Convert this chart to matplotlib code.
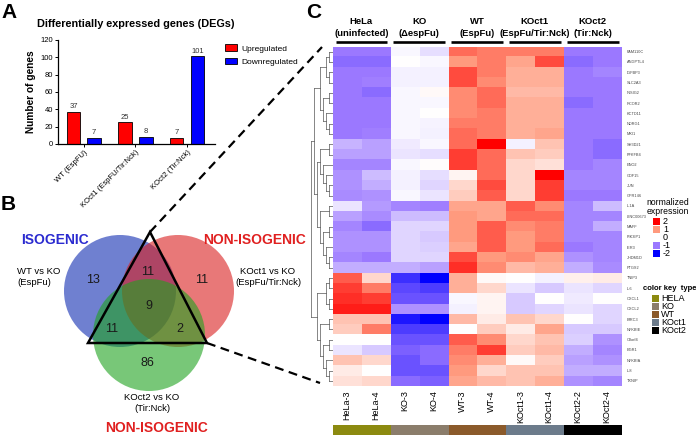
import numpy as np
import matplotlib
matplotlib.use('Agg')
from matplotlib import pyplot as plt
from matplotlib.colors import LinearSegmentedColormap, ListedColormap
from matplotlib.patches import Circle, Rectangle, Polygon

plt.rcParams['font.family'] = ['Liberation Sans', 'DejaVu Sans']

W, H = 696, 438

# ---- panel A data
deg_groups = ['WT (EspFU)', 'KOct1 (EspFU/Tir:Nck)', 'KOct2 (Tir:Nck)']
up_genes = [37, 25, 7]
down_genes = [7, 8, 101]

# ---- panel B data (Venn region counts)
venn_regions = ['WT', 'WT&KOct1', 'KOct1', 'all', 'WT&KOct2', 'KOct1&KOct2', 'KOct2']
venn_counts = [13, 11, 11, 9, 11, 2, 86]

# ---- panel C data
genes = ['FAM110C', 'ANGPTL4', 'IGFBP3', 'SLC2A3', 'INSIG2', 'RCOR2', 'KCTD11',
         'NDRG1', 'MXI1', 'SH3D21', 'PFKFB4', 'ENO2', 'GDF15', 'JUN', 'GPR146',
         'IL1A', 'LINC00673', 'MAFF', 'PIK3IP1', 'IER3', 'JHDM1D', 'PTGS2',
         'TNIP3', 'IL6', 'CXCL1', 'CXCL2', 'BIRC3', 'NFKBIE', 'C8orf4', 'EGR1',
         'NFKBIA', 'IL8', 'TXNIP']
samples = ['HeLa-3', 'HeLa-4', 'KO-3', 'KO-4', 'WT-3', 'WT-4',
           'KOct1-3', 'KOct1-4', 'KOct2-2', 'KOct2-4']
sample_type = [0, 0, 1, 1, 2, 2, 3, 3, 4, 4]
type_names = ['HELA', 'KO', 'WT', 'KOct1', 'KOct2']
group_top = ['HeLa', 'KO', 'WT', 'KOct1', 'KOct2']
group_bottom = ['(uninfected)', '(\u0394espFu)', '(EspFu)', '(EspFu/Tir:Nck)', '(Tir:Nck)']
expr = np.array([
    [-1.0, -1.0, -0.05, -0.25, 1.3, 1.2, 1.2, 1.2, -1.0, -1.0],
    [-1.1, -1.1, 0.00, -0.05, 1.0, 1.2, 0.9, 1.5, -1.1, -1.0],
    [-1.0, -1.0, -0.10, -0.10, 1.5, 1.2, 0.8, 0.8, -1.0, -0.9],
    [-1.0, -0.95, -0.10, -0.10, 1.5, 1.1, 0.8, 0.8, -1.0, -1.0],
    [-1.0, -1.1, -0.05, 0.05, 1.1, 1.3, 0.7, 0.7, -1.0, -1.0],
    [-1.0, -1.0, -0.05, -0.05, 1.1, 1.3, 0.8, 0.8, -1.1, -1.0],
    [-1.0, -1.0, -0.05, 0.00, 1.1, 1.2, 0.8, 0.8, -1.0, -1.0],
    [-1.0, -1.0, -0.05, -0.08, 1.2, 1.2, 0.8, 0.8, -1.0, -1.0],
    [-1.0, -0.95, -0.05, -0.10, 1.3, 1.2, 0.8, 0.9, -1.0, -1.0],
    [-0.55, -0.7, -0.15, -0.05, 1.3, 2.0, -0.1, 0.6, -1.0, -1.1],
    [-0.7, -0.7, -0.20, -0.25, 1.6, 1.3, 0.6, 0.5, -1.0, -1.1],
    [-0.9, -0.9, -0.05, 0.02, 1.6, 1.3, 0.4, 0.3, -1.0, -0.9],
    [-0.8, -0.5, -0.10, -0.25, 0.1, 1.3, 0.4, 2.0, -0.9, -0.9],
    [-0.8, -0.6, -0.10, -0.30, 0.4, 1.5, 0.4, 1.6, -0.9, -0.9],
    [-0.85, -0.8, -0.05, -0.2, 0.5, 1.4, 0.4, 1.6, -1.0, -1.0],
    [-0.2, -0.75, -0.9, -0.95, 0.9, 0.9, 1.4, 1.1, -0.9, -0.5],
    [-0.7, -0.85, -0.5, -0.5, 1.0, 0.9, 1.3, 1.3, -0.9, -0.9],
    [-0.9, -1.1, -0.3, -0.3, 1.0, 1.4, 1.1, 1.2, -0.9, -0.6],
    [-0.8, -0.8, -0.3, -0.4, 1.0, 1.4, 1.0, 1.2, -0.9, -0.9],
    [-0.8, -0.8, -0.3, -0.35, 0.9, 1.4, 1.0, 1.3, -1.0, -0.9],
    [-0.9, -1.0, -0.3, -0.3, 1.5, 1.0, 1.1, 0.9, -0.8, -0.9],
    [-0.6, -0.6, -0.6, -0.7, 1.7, 1.1, 0.7, 0.8, -0.6, -0.85],
    [1.4, 0.4, -1.6, -2.0, 0.8, 0.05, 0.0, -0.1, 0.15, 0.2],
    [1.6, 1.2, -1.4, -1.5, 0.8, 0.4, -0.2, -0.4, -0.2, -0.3],
    [1.7, 1.6, -1.3, -1.3, -0.05, 0.1, -0.4, 0.0, -0.15, 0.0],
    [1.8, 1.8, -0.8, -0.8, -0.1, 0.1, -0.4, -0.3, -0.2, -0.3],
    [0.6, 0.6, -1.8, -2.0, 0.7, 0.2, 0.6, 0.4, 0.0, -0.3],
    [0.5, 1.2, -1.5, -1.5, 0.0, 0.5, 0.2, 0.9, -0.4, -0.4],
    [0.0, 0.0, -1.3, -1.3, 1.4, 1.1, 0.4, 0.6, -0.35, -0.8],
    [-0.2, -0.4, -1.2, -1.1, 1.2, 1.6, 0.5, 0.7, -0.6, -0.9],
    [0.6, 0.4, -1.3, -1.1, 1.1, 0.8, 0.05, 0.5, -0.7, -0.8],
    [0.2, 0.0, -1.3, -1.3, 1.0, 0.4, 0.6, 0.6, -0.6, -0.6],
    [0.3, 0.4, -1.1, -1.2, 0.9, 0.7, 0.6, 0.8, -0.8, -0.9],
])
# row clustering (nested row indices)
top_tree = [[[[0, 1], [2, 3]], [[4, 5], [6, [7, 8]]]],
            [[[9, 10], [11, [12, [13, 14]]]], [[15, 16], [[17, 18], [19, [20, 21]]]]]]
bottom_tree = [[[22, 23], [24, 25]], [[26, 27], [[28, 29], [30, [31, 32]]]]]
row_tree = [top_tree, bottom_tree]

legend_levels = [2, 1, 0, -1, -2]

heat_colors = ['#0000ff', '#9b78ff', '#ffffff', '#ff9c80', '#ff0000']
type_colors = ['#8c8a10', '#8b7d6b', '#8b5a2b', '#6c7b8b', '#000000']
cmap = LinearSegmentedColormap.from_list('expr', heat_colors)


def px_axes(x0, y0, x1, y1):
    return fig.add_axes([x0 / W, 1 - y1 / H, (x1 - x0) / W, (y1 - y0) / H])


fig = plt.figure(figsize=(W / 100, H / 100), dpi=100)

# overlay axes in pixel coordinates
ov = fig.add_axes([0, 0, 1, 1])
ov.set_xlim(0, W)
ov.set_ylim(H, 0)
ov.axis('off')

# panel letters
for letter, (lx, ly) in zip('ABC', [(1, 12), (1, 205), (306, 12)]):
    ov.text(lx, ly, letter, fontsize=15, fontweight='bold', va='center', ha='left')

# ---------------- Panel A
axA = px_axes(58, 40, 215, 144)
xg = np.arange(len(deg_groups))
axA.bar(xg - 0.2, up_genes, 0.26, color='#ff0000', edgecolor='black', lw=0.6, label='Upregulated')
axA.bar(xg + 0.2, down_genes, 0.26, color='#0000ff', edgecolor='black', lw=0.6, label='Downregulated')
for xi, u, d in zip(xg, up_genes, down_genes):
    axA.text(xi - 0.2, u + 2, str(u), ha='center', va='bottom', fontsize=5.5, color='#333333')
    axA.text(xi + 0.2, d + 2, str(d), ha='center', va='bottom', fontsize=5.5, color='#333333')
axA.set_xlim(-0.5, 2.54)
axA.set_ylim(0, 120)
axA.set_yticks(np.arange(0, 121, 20))
axA.set_xticks(xg)
axA.set_xticklabels(deg_groups, rotation=45, ha='right', rotation_mode='anchor', fontsize=5.5)
axA.tick_params(axis='y', labelsize=5.5, length=2, width=0.7, pad=1.5)
axA.tick_params(axis='x', length=2, width=0.7, pad=1.5)
for s in ['top', 'right']:
    axA.spines[s].set_visible(False)
for s in ['left', 'bottom']:
    axA.spines[s].set_linewidth(0.9)
axA.set_ylabel('Number of genes', fontsize=7.3, fontweight='bold', labelpad=3)
ov.text(136, 24, 'Differentially expressed genes (DEGs)', fontsize=7.8, fontweight='bold',
        ha='center', va='center')
axA.legend(loc='upper left', bbox_to_anchor=(1.04, 1.0), frameon=False, fontsize=6,
           handlelength=1.4, handleheight=0.9, borderpad=0, labelspacing=0.6, handletextpad=0.5)

# ---------------- Panel B (Venn)
circles = [((120, 291), '#102bb1'), ((178, 291), '#d91e1e'), ((149, 335), '#1ea31e')]
for (cx, cy), col in circles:
    ov.add_patch(Circle((cx, cy), 56, fc=col, alpha=0.6, ec='none'))
count_pos = [(93, 280), (148, 272), (202, 280), (149, 306), (112, 329), (180, 329), (147, 363)]
for (tx, ty), n in zip(count_pos, venn_counts):
    ov.text(tx, ty, str(n), fontsize=9, ha='center', va='center', color='#1a1a1a')
ov.add_patch(Polygon([(150, 232), (88, 343), (207, 343)], closed=True, fill=False,
                     ec='black', lw=1.8))
ov.text(55, 240, 'ISOGENIC', fontsize=10, fontweight='bold', color='#2b2bd0', ha='center', va='center')
ov.text(203, 240, 'NON-ISOGENIC', fontsize=10, fontweight='bold', color='#e02020', ha='left', va='center')
ov.text(156, 428, 'NON-ISOGENIC', fontsize=10, fontweight='bold', color='#e02020', ha='center', va='center')
ov.text(17, 277, 'WT vs KO\n(EspFu)', fontsize=6.8, ha='left', va='center', linespacing=1.25)
ov.text(268, 277, 'KOct1 vs KO\n(EspFu/Tir:Nck)', fontsize=6.8, ha='center', va='center', linespacing=1.25)
ov.text(152, 403, 'KOct2 vs KO\n(Tir:Nck)', fontsize=6.8, ha='center', va='center', linespacing=1.25)

# dashed connectors
ov.plot([150, 322], [232, 47], color='black', lw=1.6, ls=(0, (4, 2.5)))
ov.plot([207, 320], [343, 383], color='black', lw=1.6, ls=(0, (4, 2.5)))

# ---------------- Panel C (heatmap)
hx0, hx1, hy0, hy1 = 332.5, 621.5, 46.5, 386
col_w = (hx1 - hx0) / len(samples)
axH = px_axes(hx0, hy0, hx1, hy1)
axH.imshow(expr, cmap=cmap, vmin=-2, vmax=2, aspect='auto', interpolation='nearest')
axH.set_yticks(np.arange(len(genes)))
axH.set_yticklabels(genes, fontsize=2.8, color='#444444')
axH.yaxis.tick_right()
axH.set_xticks(np.arange(len(samples)))
axH.set_xticklabels(samples, rotation=90, fontsize=6.5, va='top')
axH.tick_params(length=0, pad=3)
axH.tick_params(axis='y', pad=4)
for s in axH.spines.values():
    s.set_visible(False)

# sample type strip
axS = px_axes(hx0, 425, hx1, 435)
axS.imshow(np.array([sample_type]), cmap=ListedColormap(type_colors), vmin=-0.5, vmax=4.5,
           aspect='auto', interpolation='nearest')
axS.axis('off')

# group headers
for g, (t1, t2) in enumerate(zip(group_top, group_bottom)):
    gx0 = hx0 + 2 * g * col_w
    gx1 = gx0 + 2 * col_w
    cx = (gx0 + gx1) / 2
    ov.text(cx, 21, t1, fontsize=6.8, fontweight='bold', ha='center', va='center')
    ov.text(cx, 33, t2, fontsize=6.8, fontweight='bold', ha='center', va='center')
    ov.plot([gx0 + 3, gx1 - 3], [41.5, 41.5], color='black', lw=1.9, solid_capstyle='butt')

# dendrogram
axD = px_axes(311, hy0, hx0, hy1)


def draw_tree(node):
    if isinstance(node, int):
        return node, 0
    kids = [draw_tree(k) for k in node]
    h = 1 + max(k[1] for k in kids)
    ys = [k[0] for k in kids]
    for y, kh in kids:
        axD.plot([kh, h], [y, y], color='#555555', lw=0.5)
    axD.plot([h, h], [min(ys), max(ys)], color='#555555', lw=0.5)
    return float(np.mean(ys)), h


_, root_h = draw_tree(row_tree)
axD.set_xlim(root_h + 0.1, 0)
axD.set_ylim(len(genes) - 0.5, -0.5)
axD.axis('off')

# expression legend
ov.text(668, 207, 'normalized\nexpression', fontsize=6.2, ha='center', va='center', linespacing=1.1)
for i, lev in enumerate(legend_levels):
    yy = 221 + i * 8
    if lev != 0:
        ov.add_patch(Rectangle((653, yy - 3.5), 7, 7, fc=cmap((lev + 2) / 4), ec='none'))
    ov.text(663, yy, str(lev), fontsize=6.5, ha='left', va='center')

# color key
ov.text(643, 289, 'color key  type', fontsize=5.5, fontweight='bold', ha='left', va='center')
for i, (nm, col) in enumerate(zip(type_names, type_colors)):
    yy = 298.5 + i * 8
    ov.add_patch(Rectangle((652, yy - 3.5), 6.5, 7, fc=col, ec='none'))
    ov.text(661, yy, nm, fontsize=6.5, ha='left', va='center')

fig.savefig('out.png', dpi=100)
